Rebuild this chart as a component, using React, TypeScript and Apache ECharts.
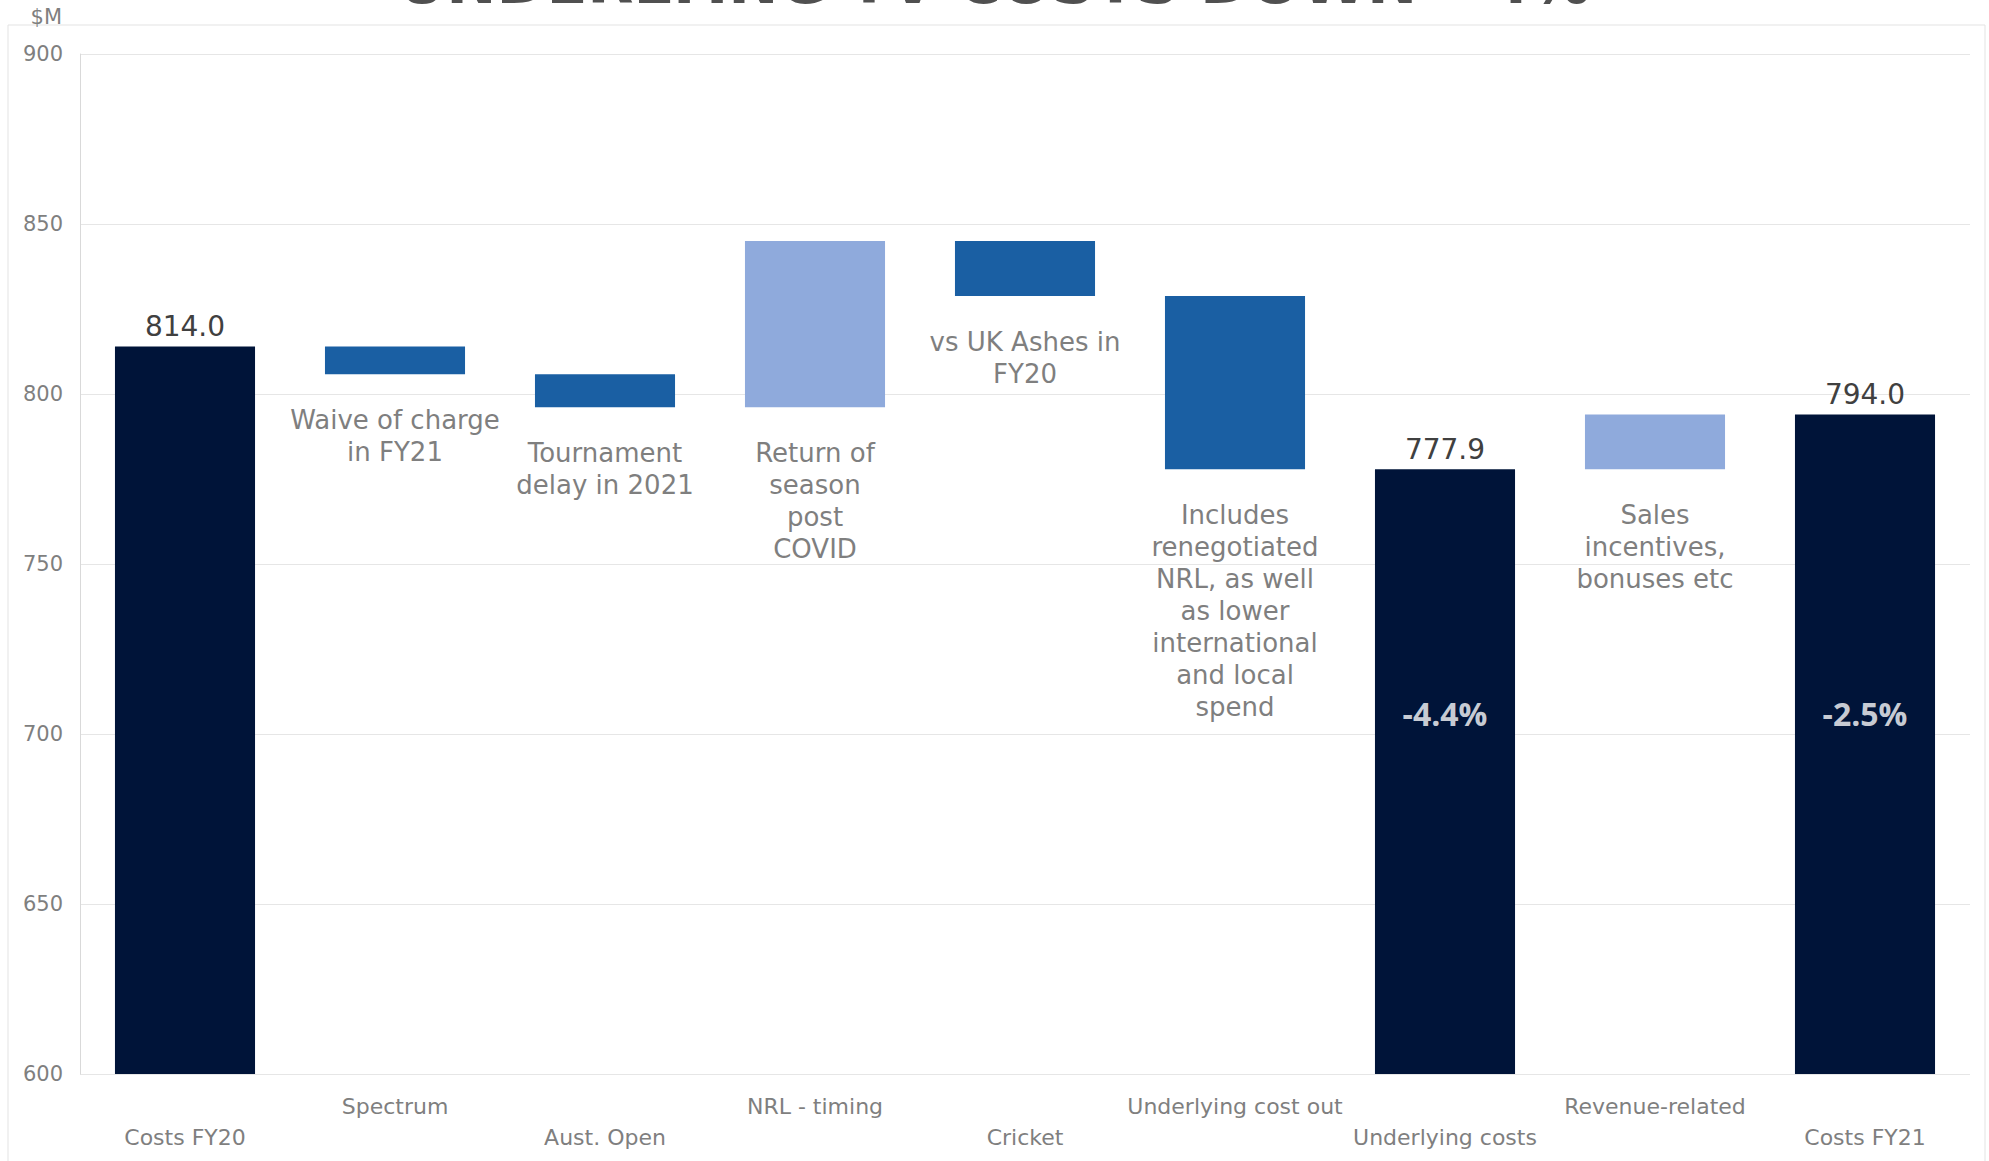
import React, { useEffect, useRef } from "react";
import * as echarts from "echarts";

const titleText = "UNDERLYING TV COSTS DOWN ~4%";
const unitLabel = "$M";
const categories = [
  "Costs FY20",
  "Spectrum",
  "Aust. Open",
  "NRL - timing",
  "Cricket",
  "Underlying cost out",
  "Underlying costs",
  "Revenue-related",
  "Costs FY21",
];
const values = [814.0, -8.2, -9.7, 48.9, -16.2, -50.9, 777.9, 16.1, 794.0];
const kinds = ["total", "decrease", "decrease", "increase", "decrease", "decrease", "total", "increase", "total"];
const notes = [
  "",
  "Waive of charge\nin FY21",
  "Tournament\ndelay in 2021",
  "Return of\nseason\npost\nCOVID",
  "vs UK Ashes in\nFY20",
  "Includes\nrenegotiated\nNRL, as well\nas lower\ninternational\nand local\nspend",
  "",
  "Sales\nincentives,\nbonuses etc",
  "",
];
const pctLabels = ["", "", "", "", "", "", "-4.4%", "", "-2.5%"];
const pctLevel = 706;
const yMin = 600;
const yMax = 900;
const yStep = 50;

const COLORS: Record<string, string> = {
  total: "#001439",
  decrease: "#1A5FA3",
  increase: "#8FAADC",
};

const FONT = "'DejaVu Sans', sans-serif";

export default function App() {
  const ref = useRef<HTMLDivElement>(null);

  useEffect(() => {
    document.body.style.margin = "0";
    if (!ref.current) return;
    const chart = echarts.init(ref.current, undefined, { renderer: "svg" });

    const bases: number[] = [];
    const heights: number[] = [];
    let running = 0;
    values.forEach((v, i) => {
      if (kinds[i] === "total") {
        bases.push(0);
        heights.push(v);
        running = v;
      } else {
        const end = running + v;
        bases.push(Math.min(running, end));
        heights.push(Math.abs(v));
        running = end;
      }
    });

    const visibleData = heights.map((h, i) => {
      const isTotal = kinds[i] === "total";
      return {
        value: h,
        itemStyle: { color: COLORS[kinds[i]] },
        label: isTotal
          ? {
              show: true,
              position: "top",
              distance: 6,
              formatter: values[i].toFixed(1),
              color: "#404040",
              fontSize: 28,
              fontFamily: FONT,
            }
          : {
              show: true,
              position: "bottom",
              distance: 30,
              formatter: notes[i],
              color: "#7F7F7F",
              fontSize: 26,
              lineHeight: 32,
              align: "center",
              fontFamily: FONT,
            },
      };
    });

    const pctData = pctLabels
      .map((t, i) => (t ? { value: [i, pctLevel], name: t } : null))
      .filter((d) => d !== null);

    chart.setOption({
      animation: false,
      backgroundColor: "#FFFFFF",
      grid: { left: 80, right: 19, top: 54, bottom: 87, containLabel: false },
      graphic: [
        {
          type: "rect",
          shape: { x: 8, y: 25, width: 1977, height: 1160 },
          style: { fill: "none", stroke: "#E3E3E3", lineWidth: 1 },
          silent: true,
        },
        {
          type: "text",
          x: 994,
          y: 12,
          style: {
            text: titleText,
            fill: "#505050",
            font: "bold 60px 'DejaVu Sans', sans-serif",
            align: "center",
            verticalAlign: "bottom",
          },
          silent: true,
        },
        {
          type: "text",
          x: 62,
          y: 17,
          style: {
            text: unitLabel,
            fill: "#7F7F7F",
            font: "21px 'DejaVu Sans', sans-serif",
            align: "right",
            verticalAlign: "middle",
          },
          silent: true,
        },
      ],
      xAxis: {
        type: "category",
        data: categories,
        axisLine: { show: false },
        axisTick: { show: false },
        axisLabel: {
          interval: 0,
          margin: 17,
          color: "#7F7F7F",
          fontSize: 22,
          lineHeight: 31,
          fontFamily: FONT,
          verticalAlign: "top",
          formatter: (v: string, i: number) => (i % 2 === 0 ? "\n" + v : v),
        },
      },
      yAxis: {
        type: "value",
        min: yMin,
        max: yMax,
        interval: yStep,
        axisLine: { show: true, lineStyle: { color: "#D9D9D9", width: 1 } },
        axisTick: { show: false },
        splitLine: { show: true, lineStyle: { color: "#E6E6E6", width: 1 } },
        axisLabel: {
          margin: 17,
          color: "#7F7F7F",
          fontSize: 21,
          fontFamily: FONT,
        },
      },
      series: [
        {
          type: "bar",
          stack: "wf",
          data: bases,
          itemStyle: { color: "transparent" },
          barCategoryGap: "33.3%",
          silent: true,
          label: { show: false },
        },
        {
          type: "bar",
          stack: "wf",
          data: visibleData,
          barCategoryGap: "33.3%",
        },
        {
          type: "scatter",
          data: pctData,
          symbolSize: 0,
          label: {
            show: true,
            position: "inside",
            formatter: (p: any) => p.name,
            color: "#FFFFFF",
            textBorderWidth: 0,
            fontSize: 32,
            fontWeight: "bold",
            fontFamily: "'Open Sans', sans-serif",
          },
          silent: true,
        },
      ],
    });

    return () => chart.dispose();
  }, []);

  return <div ref={ref} style={{ width: 1989, height: 1161 }} />;
}
